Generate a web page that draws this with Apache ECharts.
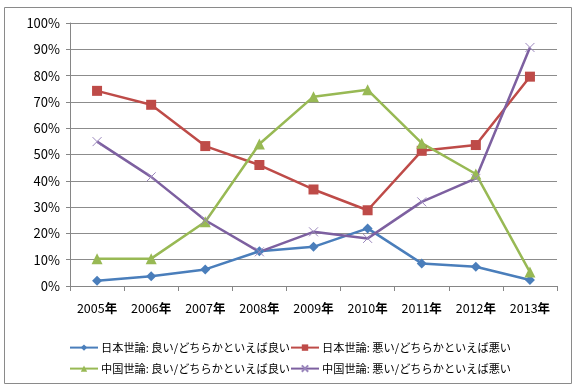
<!DOCTYPE html>
<html><head><meta charset="utf-8">
<script src="https://cdn.jsdelivr.net/npm/echarts@6/dist/echarts.min.js"></script>
<style>html,body{margin:0;padding:0;background:#fff}#c{width:578px;height:388px}</style>
</head><body><div id="c"></div>
<script>
const categories = ['2005年','2006年','2007年','2008年','2009年','2010年','2011年','2012年','2013年'];
const seriesNames = ['日本世論: 良い/どちらかといえば良い','日本世論: 悪い/どちらかといえば悪い','中国世論: 良い/どちらかといえば良い','中国世論: 悪い/どちらかといえば悪い'];
const japanGood = [2.0, 3.7, 6.3, 13.2, 14.9, 21.9, 8.6, 7.3, 2.3];
const japanBad = [74.2, 68.9, 53.2, 46.0, 36.7, 28.8, 51.4, 53.6, 79.6];
const chinaGood = [10.4, 10.4, 24.4, 54.0, 72.0, 74.6, 54.3, 42.6, 5.3];
const chinaBad = [54.9, 41.5, 25.0, 13.0, 20.6, 18.1, 32.0, 40.9, 90.7];
const yTicks = [0,10,20,30,40,50,60,70,80,90,100];

const colors = ['#4A7EBB','#BE4B48','#98B954','#7D60A0'];
const font = '"Noto Sans CJK JP", "Noto Sans", sans-serif';
const chart = echarts.init(document.getElementById('c'));
const xPath = 'path://M0,0L10,10M10,0L0,10';
function mk(i, data, symbol, size) {
  const s = {
    name: seriesNames[i], type: 'line', data: data, symbol: symbol, symbolSize: size,
    showSymbol: true, animation: false,
    lineStyle: {color: colors[i], width: 2.5},
    itemStyle: {color: colors[i]}
  };
  if (i === 3) s.itemStyle = {color: 'rgba(0,0,0,0)', borderColor: '#9A86BC', borderWidth: 1};
  return s;
}
const legendText = {fontFamily: font, fontSize: 11.2, color: '#000', padding: [0,0,0,-2]};
chart.setOption({
  animation: false,
  graphic: [{type: 'rect', shape: {x: 4.5, y: 7.5, width: 567, height: 376}, style: {fill: 'none', stroke: '#8a8a8a', lineWidth: 1}}],
  grid: {left: 70, right: 21, top: 23, bottom: 102, containLabel: false},
  xAxis: {
    type: 'category', data: categories, boundaryGap: true,
    axisLine: {lineStyle: {color: '#868686'}},
    axisTick: {show: true, length: 5, inside: false, lineStyle: {color: '#868686'}},
    axisLabel: {color: '#000', fontFamily: font, fontSize: 12.5, margin: 16, interval: 0, hideOverlap: false,
      formatter: v => v.replace('年', '') + '{b|年}',
      rich: {b: {fontWeight: 'bold', fontFamily: font, fontSize: 12.5, color: '#000'}}}
  },
  yAxis: {
    type: 'value', min: 0, max: 100, interval: 10,
    axisLine: {show: true, lineStyle: {color: '#868686'}},
    axisTick: {show: true, length: 4, lineStyle: {color: '#868686'}},
    splitLine: {lineStyle: {color: '#8c8c8c', width: 1}},
    axisLabel: {color: '#000', fontFamily: font, fontSize: 13, margin: 10, formatter: v => yTicks.includes(v) ? v + '%' : ''}
  },
  legend: [
    {data: [seriesNames[0], seriesNames[1]], left: 64, top: 337, itemGap: 0, itemWidth: 28, itemHeight: 8, textStyle: legendText},
    {data: [seriesNames[2], seriesNames[3]], left: 64, top: 358, itemGap: 0, itemWidth: 28, itemHeight: 8, textStyle: legendText}
  ],
  series: [
    mk(0, japanGood, 'diamond', 10),
    mk(1, japanBad, 'rect', 10),
    mk(2, chinaGood, 'triangle', 11),
    mk(3, chinaBad, xPath, 9)
  ]
});
</script></body></html>
